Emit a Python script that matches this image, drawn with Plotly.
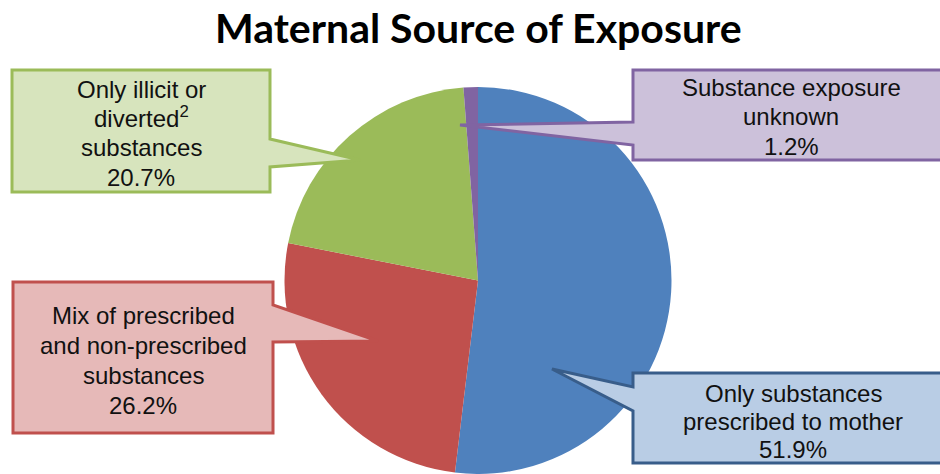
import plotly.graph_objects as go

W, H = 940, 474

# ---- data ----
categories = [
    "Only substances prescribed to mother",
    "Mix of prescribed and non-prescribed substances",
    "Only illicit or diverted substances",
    "Substance exposure unknown",
]
values = [51.9, 26.2, 20.7, 1.2]
label_lines = [
    ["Only substances", "prescribed to mother"],
    ["Mix of prescribed", "and non-prescribed", "substances"],
    ["Only illicit or", "diverted<sup>2</sup>", "substances"],
    ["Substance exposure", "unknown"],
]
title_text = "Maternal Source of Exposure"

# ---- styles ----
slice_colors = ["#4F81BD", "#C0504D", "#9BBB59", "#8064A2"]
box_fill = ["#B9CDE5", "#E6B9B8", "#D7E4BD", "#CCC1DA"]
box_line = ["#385D8A", "#C0504D", "#9BBB59", "#8064A2"]


def px(x):
    return x / W


def py(y):
    return 1 - y / H


# callout geometry in pixels: box (l, t, r, b), pointer side, junction ys, tip
callouts = [
    dict(l=633, t=373, r=948, b=463, side="left", j=(387, 411), tip=(552, 369),
         cx=793, ys=[393, 421, 449]),
    dict(l=13, t=282, r=273, b=433, side="right", j=(305, 342), tip=(378, 341),
         cx=143, ys=[315, 345, 375, 405]),
    dict(l=12, t=70, r=270, b=192, side="right", j=(139, 167), tip=(360, 160),
         cx=141, ys=[89, 117, 147, 177]),
    dict(l=633, t=70, r=948, b=160, side="left", j=(122, 145), tip=(460, 125),
         cx=791, ys=[88, 117, 146]),
]

fig = go.Figure()
fig.add_trace(go.Pie(
    labels=categories,
    values=values,
    sort=False,
    direction="clockwise",
    rotation=0,
    marker=dict(colors=slice_colors, line=dict(width=0)),
    textinfo="none",
    hoverinfo="label+percent",
    showlegend=False,
    domain=dict(x=[px(283), px(673)], y=[0, py(87)]),
))

shapes = []
annotations = []
for i, c in enumerate(callouts):
    l, t, r, b = c["l"], c["t"], c["r"], c["b"]
    j1, j2 = c["j"]
    tx, ty = c["tip"]
    if c["side"] == "right":
        pts = [(l, t), (r, t), (r, j1), (tx, ty), (r, j2), (r, b), (l, b)]
    else:
        pts = [(l, t), (r, t), (r, b), (l, b), (l, j2), (tx, ty), (l, j1)]
    path = "M " + " L ".join(f"{px(x):.5f},{py(y):.5f}" for x, y in pts) + " Z"
    shapes.append(dict(type="path", path=path, xref="paper", yref="paper",
                       fillcolor=box_fill[i], line=dict(color=box_line[i], width=3),
                       layer="above"))
    lines = label_lines[i] + [f"{values[i]:.1f}%"]
    for txt, yy in zip(lines, c["ys"]):
        annotations.append(dict(
            text=txt, x=px(c["cx"]), y=py(yy), xref="paper", yref="paper",
            xanchor="center", yanchor="middle", showarrow=False,
            font=dict(family="Liberation Sans, Arial, sans-serif", size=24, color="#111111"),
        ))

annotations.append(dict(
    text=f"<b>{title_text}</b>", x=px(478), y=py(28), xref="paper", yref="paper",
    xanchor="center", yanchor="middle", showarrow=False,
    font=dict(family="Lato, sans-serif", size=41, color="#000000"),
))

fig.update_layout(
    width=W, height=H,
    margin=dict(l=0, r=0, t=0, b=0),
    paper_bgcolor="white", plot_bgcolor="white",
    shapes=shapes, annotations=annotations,
)

fig.write_html("out.html", config={"displayModeBar": False},
               post_script="document.body.style.margin='0px';")
